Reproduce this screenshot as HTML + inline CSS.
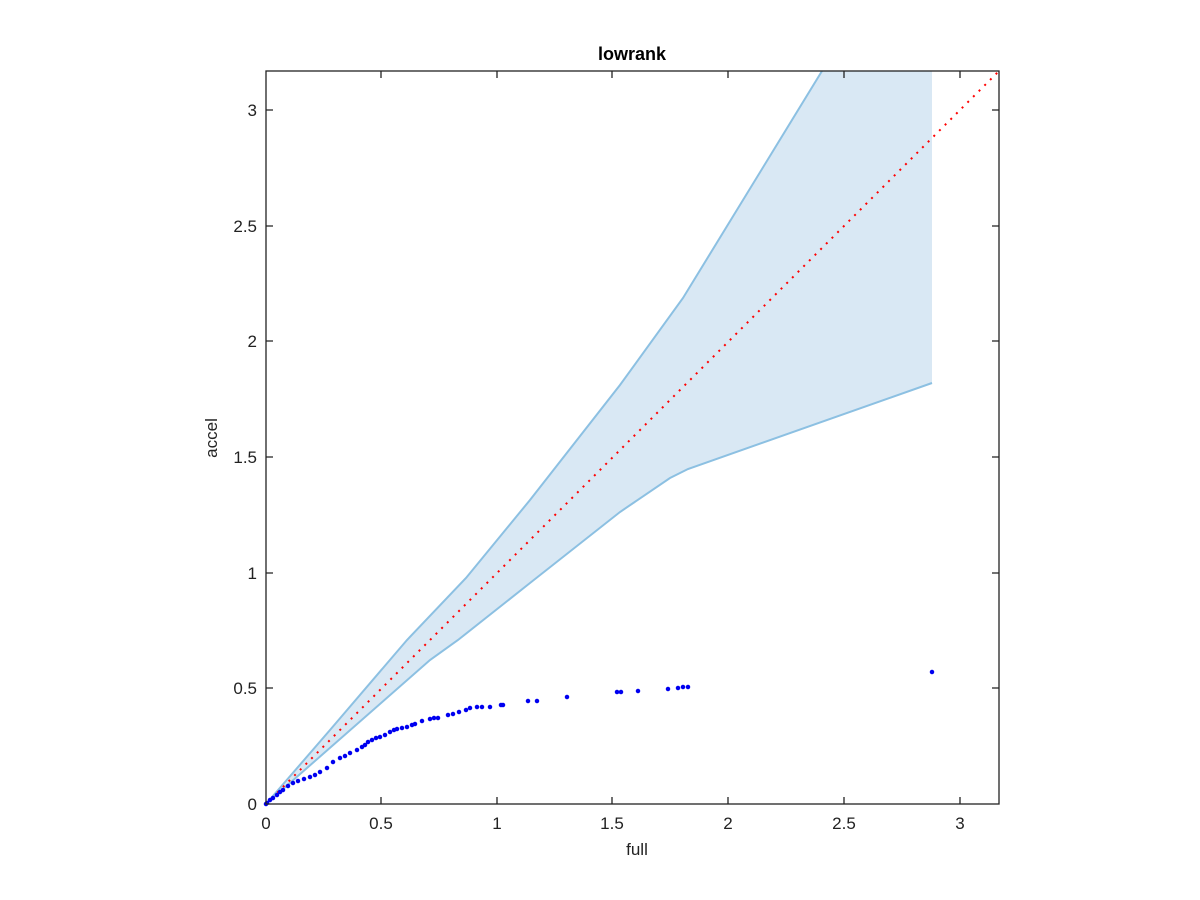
<!DOCTYPE html>
<html><head><style>body{margin:0;background:#fff}svg{display:block}text{font-family:"Liberation Sans",sans-serif;fill:#222}</style></head>
<body>
<svg width="1200" height="900" viewBox="0 0 1200 900">
<polygon points="266,804 330,730 407,640 466,578 530,500 620,385 683,298 822,71 932,71 932,383 688,469 670,478 620,512 530,583 458,640 430,660 266,804" fill="#d9e8f4"/>
<polyline points="266,804 330,730 407,640 466,578 530,500 620,385 683,298 822,71" fill="none" stroke="#8cc0e2" stroke-width="2"/>
<polyline points="932,383 688,469 670,478 620,512 530,583 458,640 430,660 266,804" fill="none" stroke="#8cc0e2" stroke-width="2"/>
<line x1="266" y1="804" x2="999" y2="71" stroke="#f00" stroke-width="2" stroke-dasharray="2,6"/>
<path d="M266 804h0M267 803h0M270 800h0M273 798h0M277 795h0M280 792h0M283 790h0M288 786h0M293 783h0M298 781h0M304 779h0M310 777h0M315 775h0M320 772h0M327 768h0M333 762h0M340 758h0M345 756h0M350 753h0M357 750h0M362 747h0M365 745h0M368 742h0M372 740h0M376 738h0M380 737h0M385 735h0M390 732h0M394 730h0M397 729h0M402 728h0M407 727h0M412 725h0M415 724h0M422 721h0M430 719h0M434 718h0M438 718h0M448 715h0M453 714h0M459 712h0M466 710h0M470 708h0M477 707h0M482 707h0M490 707h0M501 705h0M503 705h0M528 701h0M537 701h0M567 697h0M617 692h0M621 692h0M638 691h0M668 689h0M678 688h0M683 687h0M688 687h0M932 672h0" stroke="#0000f0" stroke-width="4.5" stroke-linecap="round"/>
<rect x="266" y="71" width="733" height="733" fill="none" stroke="#222" stroke-width="1.3"/>
<g stroke="#222" stroke-width="1.3">
<path d="M381 804v-7M497 804v-7M612 804v-7M728 804v-7M844 804v-7M960 804v-7M381 71v7M497 71v7M612 71v7M728 71v7M844 71v7M960 71v7"/>
<path d="M266 688h7M266 573h7M266 457h7M266 341h7M266 226h7M266 110h7M999 688h-7M999 573h-7M999 457h-7M999 341h-7M999 226h-7M999 110h-7"/>
</g>
<g font-size="17" text-anchor="middle">
<text x="266" y="829">0</text><text x="381" y="829">0.5</text><text x="497" y="829">1</text><text x="612" y="829">1.5</text><text x="728" y="829">2</text><text x="844" y="829">2.5</text><text x="960" y="829">3</text>
<text x="637" y="855">full</text>
</g>
<g font-size="17" text-anchor="end">
<text x="257" y="810">0</text><text x="257" y="694">0.5</text><text x="257" y="579">1</text><text x="257" y="463">1.5</text><text x="257" y="347">2</text><text x="257" y="232">2.5</text><text x="257" y="116">3</text>
</g>
<text x="217" y="438" font-size="17" text-anchor="middle" transform="rotate(-90 217 438)">accel</text>
<text x="632" y="60" font-size="18" font-weight="bold" text-anchor="middle" style="fill:#000">lowrank</text>
</svg>
</body></html>
